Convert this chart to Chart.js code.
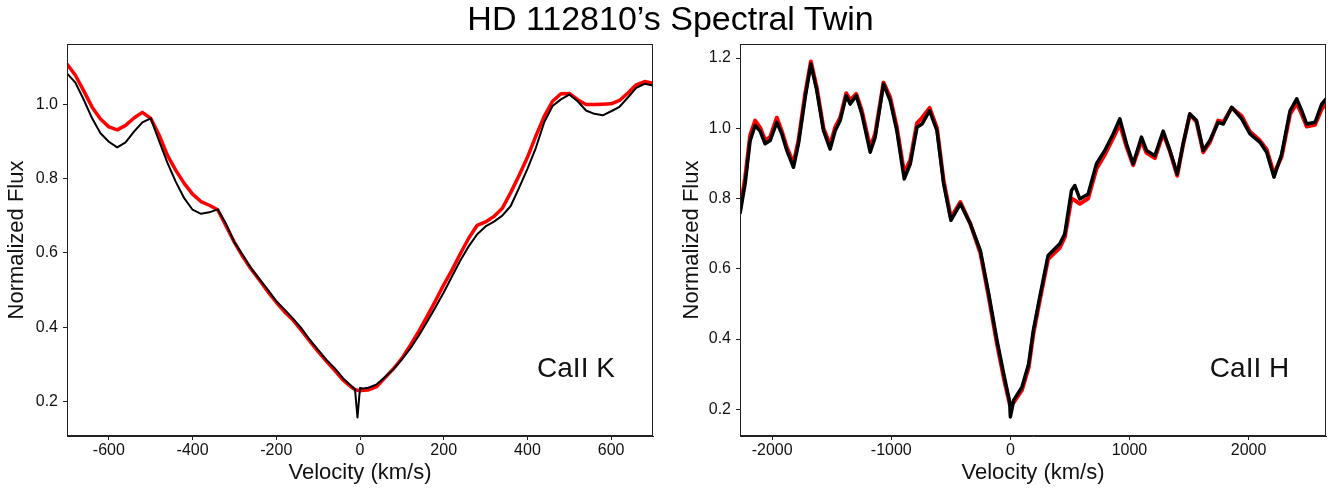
<!DOCTYPE html>
<html>
<head>
<meta charset="utf-8">
<title>HD 112810's Spectral Twin</title>
<script src="https://cdn.jsdelivr.net/npm/chart.js@4.4.1/dist/chart.umd.min.js"></script>
<style>
  html, body { margin: 0; padding: 0; background: #fff; }
  #wrap { position: relative; width: 1341px; height: 496px; overflow: hidden; }
  canvas { position: absolute; top: 0; }
  #caK { left: 0; }
  #caH { left: 670px; }
  #title { position: absolute; left: 0; top: 1px; width: 1341px; text-align: center;
           font: 34px/34px "Liberation Sans", Arial, sans-serif; color: #000; }
</style>
</head>
<body>
<div id="wrap">
  <canvas id="caK" width="670" height="496"></canvas>
  <canvas id="caH" width="671" height="496"></canvas>
  <div id="title">HD 112810’s Spectral Twin</div>
</div>
<script>
Chart.defaults.font.family = "'Liberation Sans', Arial, Helvetica, sans-serif";
Chart.defaults.color = '#111';

// Ca II K panel (velocity in km/s)
const velK = [-700,-680,-660,-640,-620,-600,-580,-560,-540,-520,-500,-480,-460,-440,-420,-400,-380,-360,-340,-320,
  -300,-280,-260,-240,-220,-200,-180,-160,-140,-120,-100,-80,-60,-40,-20,-12,-6,0,8,20,
  40,60,80,100,120,140,160,180,200,220,240,260,280,300,320,340,360,380,400,420,
  440,460,480,500,520,540,560,580,600,620,640,660,680,700];
// HD 112810 (black)
const starK = [1.083,1.058,1.012,0.962,0.922,0.899,0.884,0.897,0.926,0.951,0.962,0.901,0.842,0.791,0.747,0.716,0.705,0.709,0.717,0.678,
  0.628,0.594,0.558,0.529,0.500,0.470,0.447,0.423,0.397,0.366,0.339,0.312,0.289,0.262,0.241,0.233,0.157,0.236,0.235,0.237,
  0.246,0.266,0.287,0.313,0.342,0.376,0.414,0.453,0.493,0.537,0.580,0.618,0.650,0.671,0.684,0.700,0.726,0.775,0.826,0.882,
  0.951,0.995,1.013,1.026,1.008,0.983,0.974,0.970,0.981,0.993,1.018,1.044,1.055,1.050];
// spectral twin (red)
const twinK = [1.108,1.078,1.036,0.992,0.960,0.939,0.931,0.943,0.963,0.978,0.962,0.917,0.862,0.822,0.787,0.758,0.738,0.728,0.716,0.672,
  0.628,0.590,0.556,0.526,0.495,0.467,0.441,0.419,0.391,0.362,0.334,0.308,0.283,0.257,0.238,0.232,0.230,0.229,0.230,0.231,
  0.240,0.264,0.288,0.316,0.351,0.388,0.428,0.470,0.514,0.554,0.598,0.640,0.674,0.683,0.698,0.720,0.762,0.808,0.857,0.914,
  0.967,1.008,1.028,1.029,1.012,0.999,0.999,1.000,1.001,1.010,1.030,1.052,1.061,1.056];
const xTicksK = [-600, -400, -200, 0, 200, 400, 600];
const yTicksK = [0.2, 0.4, 0.6, 0.8, 1.0];

// Ca II H panel
const velH = [-2270,-2227,-2185,-2143,-2101,-2059,-2017,-1961,-1919,-1877,-1821,-1779,-1723,-1675,-1625,-1569,-1513,-1471,-1429,-1378,
  -1345,-1294,-1247,-1177,-1135,-1065,-1009,-953,-891,-840,-784,-742,-678,-616,-560,-499,-420,-336,-252,-182,
  -112,-56,-6,0,28,98,154,193,247,317,415,457,513,541,583,653,723,793,863,919,
  975,1031,1101,1143,1213,1283,1339,1401,1451,1507,1563,1619,1675,1745,1788,1858,1942,2012,2096,2152,
  2213,2278,2348,2404,2446,2488,2558,2614,2650];
const starH = [0.757,0.842,0.965,1.008,0.992,0.956,0.965,1.017,0.984,0.937,0.889,0.956,1.088,1.183,1.107,0.993,0.941,0.993,1.022,1.093,
  1.069,1.093,1.041,0.932,0.975,1.126,1.079,0.993,0.856,0.899,1.003,1.012,1.050,0.993,0.842,0.738,0.785,0.728,0.652,0.529,
  0.396,0.301,0.221,0.178,0.226,0.264,0.330,0.425,0.520,0.638,0.671,0.700,0.823,0.837,0.799,0.813,0.899,0.937,0.984,1.027,
  0.956,0.899,0.975,0.937,0.922,0.992,0.937,0.870,0.956,1.041,1.022,0.937,0.965,1.017,1.012,1.060,1.027,0.984,0.960,0.932,
  0.861,0.927,1.050,1.084,1.050,1.012,1.017,1.069,1.084];
const twinH = [0.770,0.860,0.980,1.022,1.002,0.966,0.975,1.030,0.992,0.946,0.900,0.966,1.098,1.190,1.115,1.000,0.952,1.003,1.030,1.100,
  1.080,1.098,1.050,0.945,0.985,1.130,1.088,1.003,0.872,0.910,1.015,1.030,1.058,1.000,0.850,0.745,0.790,0.728,0.645,0.520,
  0.385,0.290,0.215,0.212,0.220,0.255,0.320,0.415,0.510,0.628,0.660,0.690,0.800,0.795,0.785,0.800,0.885,0.925,0.972,1.012,
  0.948,0.895,0.965,0.930,0.915,0.985,0.935,0.865,0.955,1.040,1.018,0.932,0.960,1.022,1.018,1.058,1.035,0.990,0.965,0.940,
  0.870,0.920,1.040,1.072,1.040,1.005,1.010,1.055,1.070];
const xTicksH = [-2000, -1000, 0, 1000, 2000];
const yTicksH = [0.2, 0.4, 0.6, 0.8, 1.0, 1.2];

const toPoints = (vel, flux) => vel.map((v, i) => ({ x: v, y: flux[i] }));

// box round the plot area and the line name inside it
const framePlugin = {
  id: 'frame',
  afterDraw(chart, args, opts) {
    const { ctx, chartArea: a, scales } = chart;
    ctx.save();
    ctx.strokeStyle = '#222';
    ctx.lineWidth = 1;
    ctx.strokeRect(Math.round(a.left) + 0.5, Math.round(a.top) + 0.5,
                   Math.round(a.right - a.left) - 1, Math.round(a.bottom - a.top) - 1);
    ctx.font = "28px 'Liberation Sans', Arial, sans-serif";
    ctx.fillStyle = '#111';
    ctx.textBaseline = 'alphabetic';
    ctx.fillText(opts.label, scales.x.getPixelForValue(opts.at[0]), scales.y.getPixelForValue(opts.at[1]));
    ctx.restore();
  }
};

function spectrumChart(id, vel, star, twin, cfg) {
  return new Chart(document.getElementById(id), {
    type: 'line',
    plugins: [framePlugin],
    data: {
      datasets: [
        { data: toPoints(vel, star), borderColor: '#000', borderWidth: cfg.starWidth },
        { data: toPoints(vel, twin), borderColor: '#ff0000', borderWidth: cfg.twinWidth },
      ]
    },
    options: {
      responsive: false,
      animation: false,
      elements: { point: { radius: 0 }, line: { tension: 0, borderJoinStyle: 'round' } },
      layout: { padding: { top: 44, right: cfg.rightPad, left: 0, bottom: 0 } },
      plugins: {
        legend: { display: false },
        tooltip: { enabled: false },
        frame: { label: cfg.label, at: cfg.labelAt }
      },
      scales: {
        x: {
          type: 'linear', min: cfg.xMin, max: cfg.xMax,
          afterBuildTicks: s => { s.ticks = cfg.xTicks.map(v => ({ value: v })); },
          ticks: { padding: 1, maxRotation: 0, autoSkip: false, font: { size: 16 }, callback: v => String(v) },
          grid: { drawOnChartArea: false, tickLength: 4, color: '#222' },
          border: { color: '#222' },
          title: { display: true, text: 'Velocity (km/s)', font: { size: 22 }, padding: { top: 0, bottom: 10 } },
          afterFit: s => { s.height = 60; }
        },
        y: {
          min: cfg.yMin, max: cfg.yMax,
          afterBuildTicks: s => { s.ticks = cfg.yTicks.map(v => ({ value: v })); },
          ticks: { padding: 5, autoSkip: false, font: { size: 16 }, callback: v => v.toFixed(1) },
          grid: { drawOnChartArea: false, tickLength: 4, color: '#222' },
          border: { color: '#222' },
          title: { display: true, text: 'Normalized Flux', font: { size: 22 }, padding: { top: cfg.titlePad, bottom: 0 } },
          afterFit: s => { s.width = cfg.axisWidth; }
        }
      }
    }
  });
}

spectrumChart('caK', velK, starK, twinK, {
  xMin: -700, xMax: 700, xTicks: xTicksK, yMin: 0.107, yMax: 1.162, yTicks: yTicksK,
  axisWidth: 67, rightPad: 17, titlePad: 4, starWidth: 2, twinWidth: 3.5,
  label: 'CaII K', labelAt: [423, 0.265]
});

spectrumChart('caH', velH, starH, twinH, {
  xMin: -2270, xMax: 2650, xTicks: xTicksH, yMin: 0.124, yMax: 1.24, yTicks: yTicksH,
  axisWidth: 70, rightPad: 15, titlePad: 9, starWidth: 3.5, twinWidth: 4,
  label: 'CaII H', labelAt: [1675, 0.292]
});
</script>
</body>
</html>
